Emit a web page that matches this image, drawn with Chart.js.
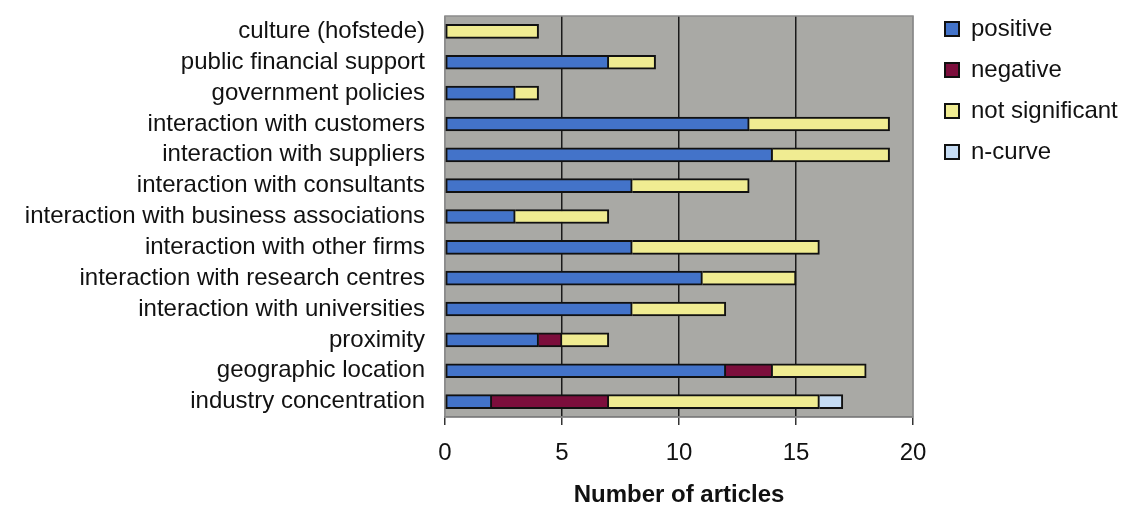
<!DOCTYPE html>
<html>
<head>
<meta charset="utf-8">
<script src="https://cdn.jsdelivr.net/npm/chart.js@4/dist/chart.umd.min.js"></script>
<style>
  body { margin: 0; background: #fff; }
  canvas { display: block; }
</style>
</head>
<body>
<canvas id="articlesChart" width="1129" height="510"></canvas>
<script>
// categories, top to bottom
const factors = [
  'culture (hofstede)',
  'public financial support',
  'government policies',
  'interaction with customers',
  'interaction with suppliers',
  'interaction with consultants',
  'interaction with business associations',
  'interaction with other firms',
  'interaction with research centres',
  'interaction with universities',
  'proximity',
  'geographic location',
  'industry concentration'
];

// number of articles per effect
const positive       = [0, 7, 3, 13, 14, 8, 3, 8, 11, 8, 4, 12, 2];
const negative       = [0, 0, 0, 0, 0, 0, 0, 0, 0, 0, 1, 2, 5];
const notSignificant = [4, 2, 1, 6, 5, 5, 4, 8, 4, 4, 2, 4, 9];
const nCurve         = [0, 0, 0, 0, 0, 0, 0, 0, 0, 0, 0, 0, 1];

const xTicks = [0, 5, 10, 15, 20];

const seriesNames = ['positive', 'negative', 'not significant', 'n-curve'];
const seriesData = [positive, negative, notSignificant, nCurve];
const seriesColors = ['#4373c9', '#7c0e3c', '#f0ec92', '#c6dcf4'];

const FONT = '"Liberation Sans", Arial, Helvetica, sans-serif';

// skip the left border of a segment when something is already stacked before it
function skipFor(dsIndex) {
  return function (ctx) {
    const i = ctx.dataIndex;
    if (i === undefined) return false;
    let before = 0;
    for (let k = 0; k < dsIndex; k++) before += seriesData[k][i];
    return before > 0 ? 'start' : false;
  };
}

const datasets = seriesNames.map((name, k) => ({
  label: name,
  data: seriesData[k].map(v => v === 0 ? null : v),
  backgroundColor: seriesColors[k],
  borderColor: '#111',
  borderWidth: 2,
  borderSkipped: skipFor(k),
  barThickness: 14
}));

// gray plot background + frame
const plotBg = {
  id: 'plotBg',
  beforeDraw(chart) {
    const a = chart.chartArea;
    const ctx = chart.ctx;
    ctx.save();
    ctx.fillStyle = '#a9a9a5';
    ctx.fillRect(a.left, a.top, a.right - a.left, a.bottom - a.top);
    ctx.restore();
  },
  beforeDatasetsDraw(chart) {
    const a = chart.chartArea;
    const ctx = chart.ctx;
    ctx.save();
    ctx.strokeStyle = '#8c8c8c';
    ctx.lineWidth = 1.5;
    ctx.strokeRect(a.left, a.top, a.right - a.left, a.bottom - a.top);
    ctx.restore();
  }
};

// keep the legend column a fixed width so it starts where the original does
const legendWidth = {
  id: 'legendWidth',
  beforeUpdate(chart) {
    const lg = chart.legend;
    if (lg && !lg._fixedFit) {
      const fit = lg.fit;
      lg.fit = function () {
        fit.call(this);
        this.width = 201;
      };
      lg._fixedFit = true;
    }
  }
};

// empty axes used only to reserve space
function spacer(axis, position, size) {
  return {
    type: 'linear',
    axis: axis,
    position: position,
    display: true,
    afterFit(scale) {
      if (axis === 'y') scale.width = size; else scale.height = size;
      scale.paddingTop = scale.paddingBottom = scale.paddingLeft = scale.paddingRight = 0;
    },
    grid: { display: false, drawTicks: false },
    border: { display: false },
    ticks: { display: false }
  };
}

new Chart(document.getElementById('articlesChart'), {
  type: 'bar',
  data: { labels: factors, datasets: datasets },
  plugins: [plotBg, legendWidth],
  options: {
    indexAxis: 'y',
    responsive: false,
    animation: false,
    layout: { padding: { top: 0, left: 0, right: 0, bottom: 0 } },
    plugins: {
      tooltip: { enabled: false },
      legend: {
        position: 'right',
        align: 'start',
        labels: {
          boxWidth: 14,
          boxHeight: 14,
          padding: 17,
          color: '#111',
          font: { family: FONT, size: 24 }
        }
      }
    },
    scales: {
      x: {
        stacked: true,
        min: 0,
        max: 20,
        afterBuildTicks(scale) {
          scale.ticks = xTicks.map(v => ({ value: v }));
        },
        afterFit(scale) { scale.height = 93; },
        grid: {
          color: ctx => (ctx.tick && (ctx.tick.value === 0 || ctx.tick.value === 20)) ? '#8c8c8c' : '#1a1a1a',
          lineWidth: 1.5,
          tickLength: 8,
          tickColor: '#333',
          drawTicks: true
        },
        border: { display: true, color: '#555', width: 1.5 },
        ticks: {
          padding: 14,
          color: '#111',
          font: { family: FONT, size: 24 }
        },
        title: {
          display: true,
          text: 'Number of articles',
          color: '#111',
          padding: { top: 0, bottom: 0 },
          font: { family: FONT, size: 24, weight: 'bold' }
        }
      },
      y: {
        stacked: true,
        afterFit(scale) {
          scale.width = 445;
          scale.paddingTop = 0;
          scale.paddingBottom = 0;
        },
        grid: { display: false, drawTicks: false },
        border: { display: false },
        ticks: {
          autoSkip: false,
          padding: 20,
          color: '#111',
          font: { family: FONT, size: 24 }
        }
      },
      rightGap: spacer('y', 'right', 15),
      topGap: spacer('x', 'top', 16)
    }
  }
});
</script>
</body>
</html>
